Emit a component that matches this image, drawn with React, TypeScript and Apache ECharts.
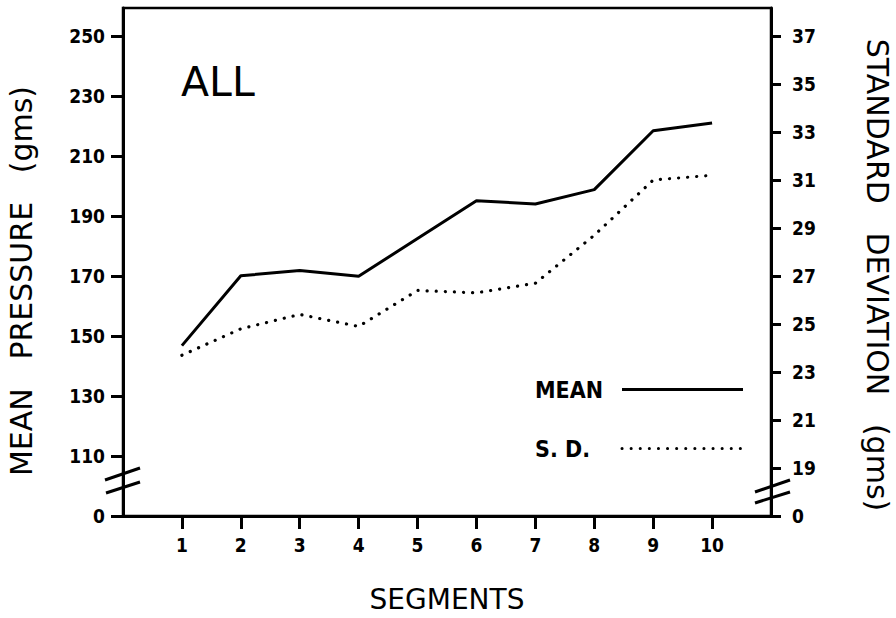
import React, { useEffect, useRef } from "react";
import * as echarts from "echarts";

// ---- data ----
const SEGMENTS = [1, 2, 3, 4, 5, 6, 7, 8, 9, 10];
const MEAN_PRESSURE = [146.8, 170.1, 171.8, 169.9, 182.5, 195.1, 194.0, 198.8, 218.4, 221.0];
const STD_DEV = [23.7, 24.8, 25.4, 24.9, 26.4, 26.3, 26.7, 28.7, 31.0, 31.2];
const LEFT_TICKS = [90, 110, 130, 150, 170, 190, 210, 230, 250]; // 90 is shown as the broken-axis "0"
const RIGHT_TICKS = [17, 19, 21, 23, 25, 27, 29, 31, 33, 35, 37]; // 17 is shown as the broken-axis "0"

const LABEL_FONT = "'DejaVu Sans', sans-serif";
const COND_FONT = "'DejaVu Sans Condensed', 'DejaVu Sans', sans-serif";

export default function App() {
  const ref = useRef<HTMLDivElement>(null);

  useEffect(() => {
    if (!ref.current) return;
    const chart = echarts.init(ref.current, null, { renderer: "svg" });

    const meanData = SEGMENTS.map((s, i) => [s, MEAN_PRESSURE[i]]);
    const sdData = SEGMENTS.map((s, i) => [s, STD_DEV[i]]);

    const tickLabel = {
      color: "#000",
      fontFamily: COND_FONT,
      fontWeight: "bold" as const,
      fontSize: 19,
    };

    const option: any = {
      animation: false,
      backgroundColor: "#fff",
      textStyle: { fontFamily: LABEL_FONT, color: "#000" },
      grid: {
        left: 123,
        right: 125,
        top: 8,
        bottom: 102,
        show: true,
        borderColor: "#000",
        borderWidth: 2.5,
        backgroundColor: "transparent",
        outerBoundsMode: "none",
      },
      xAxis: {
        type: "value",
        min: 0,
        max: 11,
        axisLine: { show: true, onZero: false, lineStyle: { color: "#000", width: 3 } },
        axisTick: {
          show: true,
          inside: false,
          length: 13,
          customValues: SEGMENTS,
          lineStyle: { color: "#000", width: 3 },
        },
        axisLabel: {
          ...tickLabel,
          margin: 19,
          customValues: SEGMENTS,
          formatter: (v: number) => String(v),
        },
        splitLine: { show: false },
      },
      yAxis: [
        {
          type: "value",
          position: "left",
          min: 90,
          max: 259.33,
          axisLine: { show: true, onZero: false, lineStyle: { color: "#000", width: 3 } },
          axisTick: {
            show: true,
            inside: false,
            length: 12,
            customValues: LEFT_TICKS,
            lineStyle: { color: "#000", width: 3 },
          },
          axisLabel: {
            ...tickLabel,
            margin: 18,
            customValues: LEFT_TICKS,
            formatter: (v: number) => (v === 90 ? "0" : String(v)),
          },
          splitLine: { show: false },
        },
        {
          type: "value",
          position: "right",
          min: 17,
          max: 38.17,
          axisLine: { show: true, onZero: false, lineStyle: { color: "#000", width: 3 } },
          axisTick: {
            show: true,
            inside: false,
            length: 10,
            customValues: RIGHT_TICKS,
            lineStyle: { color: "#000", width: 3 },
          },
          axisLabel: {
            ...tickLabel,
            margin: 21,
            customValues: RIGHT_TICKS,
            formatter: (v: number) => (v === 17 ? "0" : String(v)),
          },
          splitLine: { show: false },
        },
      ],
      legend: {
        show: true,
        orient: "vertical",
        left: 535,
        top: 378,
        align: "right",
        itemWidth: 121,
        itemHeight: 24,
        itemGap: 36,
        padding: 0,
        selectedMode: false,
        textStyle: {
          color: "#000",
          fontFamily: COND_FONT,
          fontWeight: "bold",
          fontSize: 23,
          rich: {
            t: {
              width: 82,
              align: "left",
              color: "#000",
              fontFamily: COND_FONT,
              fontWeight: "bold",
              fontSize: 23,
            },
          },
        },
        formatter: (name: string) => `{t|${name}}`,
        data: [
          {
            name: "MEAN",
            itemStyle: { opacity: 0, color: "transparent", borderWidth: 0 },
            lineStyle: { color: "#000", width: 3, type: "solid" },
          },
          {
            name: "S. D.",
            itemStyle: { opacity: 0, color: "transparent", borderWidth: 0 },
            lineStyle: { color: "#000", width: 3, type: [0.1, 9], cap: "round" },
          },
        ],
      },
      series: [
        {
          name: "MEAN",
          type: "line",
          xAxisIndex: 0,
          yAxisIndex: 0,
          data: meanData,
          symbol: "none",
          showSymbol: false,
          lineStyle: { color: "#000", width: 3, type: "solid" },
          itemStyle: { color: "#000" },
        },
        {
          name: "S. D.",
          type: "line",
          xAxisIndex: 0,
          yAxisIndex: 1,
          data: sdData,
          symbol: "none",
          showSymbol: false,
          lineStyle: { color: "#000", width: 3.2, type: [0.1, 9], cap: "round" },
          itemStyle: { color: "#000" },
        },
      ],
      graphic: [
        {
          type: "text",
          x: 181,
          y: 82,
          style: {
            text: "ALL",
            fill: "#000",
            font: `normal 41px ${LABEL_FONT}`,
            align: "left",
            verticalAlign: "middle",
          },
        },
        {
          type: "text",
          x: 21,
          y: 281,
          rotation: Math.PI / 2,
          style: {
            text: "MEAN   PRESSURE   (gms)",
            fill: "#000",
            font: `normal 30px ${LABEL_FONT}`,
            align: "center",
            verticalAlign: "middle",
          },
        },
        {
          type: "text",
          x: 877,
          y: 275,
          rotation: -Math.PI / 2,
          style: {
            text: "STANDARD   DEVIATION   (gms)",
            fill: "#000",
            font: `normal 30px ${LABEL_FONT}`,
            align: "center",
            verticalAlign: "middle",
          },
        },
        {
          type: "text",
          x: 447,
          y: 599,
          style: {
            text: "SEGMENTS",
            fill: "#000",
            font: `normal 28px ${LABEL_FONT}`,
            align: "center",
            verticalAlign: "middle",
          },
        },
        // axis break marks
        { type: "line", shape: { x1: 105, y1: 480, x2: 140, y2: 468 }, style: { stroke: "#000", lineWidth: 3 } },
        { type: "line", shape: { x1: 106, y1: 493, x2: 140, y2: 482 }, style: { stroke: "#000", lineWidth: 3 } },
        { type: "line", shape: { x1: 755, y1: 492, x2: 790, y2: 480 }, style: { stroke: "#000", lineWidth: 3 } },
        { type: "line", shape: { x1: 755, y1: 503, x2: 790, y2: 492 }, style: { stroke: "#000", lineWidth: 3 } },
      ],
    };

    chart.setOption(option);
    return () => chart.dispose();
  }, []);

  return (
    <div
      ref={ref}
      style={{ position: "fixed", left: 0, top: 0, width: 896, height: 618, background: "#fff" }}
    />
  );
}
